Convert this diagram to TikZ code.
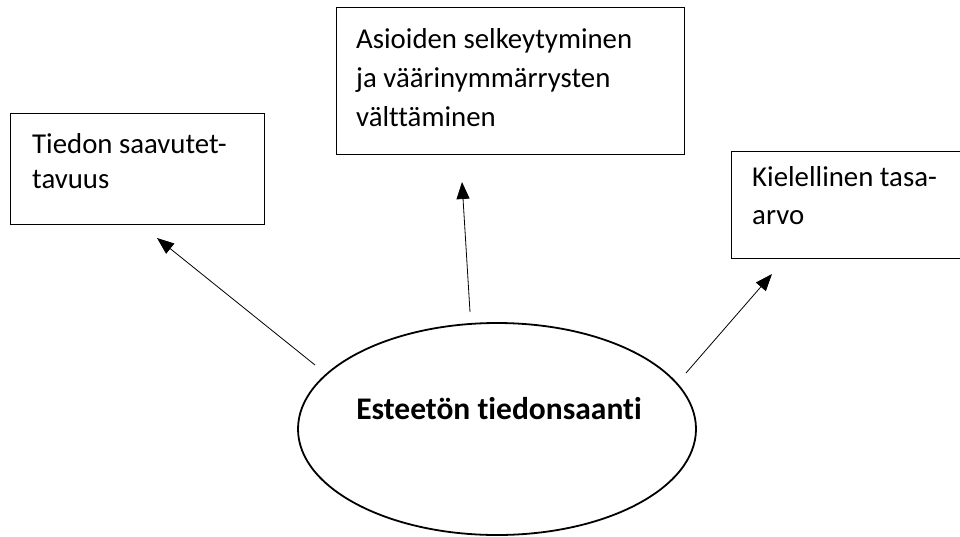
\documentclass[tikz,border=0pt]{standalone}
\usepackage{fontspec}
\setmainfont{Carlito}[Ligatures=NoCommon]
\usetikzlibrary{shapes, arrows.meta, positioning}

\begin{document}
\begin{tikzpicture}[x=1pt, y=-1pt,
		cadre/.style={rectangle, draw, line width=1pt, inner sep=0pt},
		texte/.style={anchor=base west, inner sep=0pt, align=left, font=\fontsize{28.8}{39}\selectfont},
		fleche/.style={-{Triangle[length=17pt, width=13pt]}, line width=0.8pt}]
		\clip (0,0) rectangle (960,536);
		\fill[white] (0,0) rectangle (960,536);
		
		% Cadres
		\node[cadre, minimum width=254pt, minimum height=111pt] (saavutettavuus) at (137,168.5) {};
		\node[cadre, minimum width=348pt, minimum height=147pt] (selkeys) at (510,80.5) {};
		\node[cadre, minimum width=260pt, minimum height=107pt] (tasaarvo) at (861,204.5) {};
		
		% Tekstit (ankkuri = viimeisen rivin perusviiva)
		\node[texte, font=\fontsize{28.8}{35}\selectfont] (t1) at (32,188) {Tiedon saavutet-\\tavuus};
		\node[texte] (t2) at (356,126) {Asioiden selkeytyminen\\ja väärinymmärrysten\\välttäminen};
		\node[texte, font=\fontsize{28.8}{38}\selectfont] (t3) at (752,224) {Kielellinen tasa-\\arvo};
		
		% Keskus
		\node[ellipse, draw, line width=1.8pt, minimum width=398pt, minimum height=212pt, inner sep=0pt] (esteeton) at (497,429) {};
		\node[anchor=base, inner sep=0pt, font=\fontsize{31.5}{36}\selectfont\bfseries] (otsikko) at (499,419) {Esteetön tiedonsaanti};
		
		% Nuolet
		\coordinate (a1) at (315,365);
		\coordinate (b1) at (157,238);
		\coordinate (a2) at (470,312);
		\coordinate (b2) at (462,182);
		\coordinate (a3) at (686,373);
		\coordinate (b3) at (772,274);
		\draw[fleche] (a1) -- (b1);
		\draw[fleche] (a2) -- (b2);
		\draw[fleche] (a3) -- (b3);
		
	\end{tikzpicture}
\end{document}
